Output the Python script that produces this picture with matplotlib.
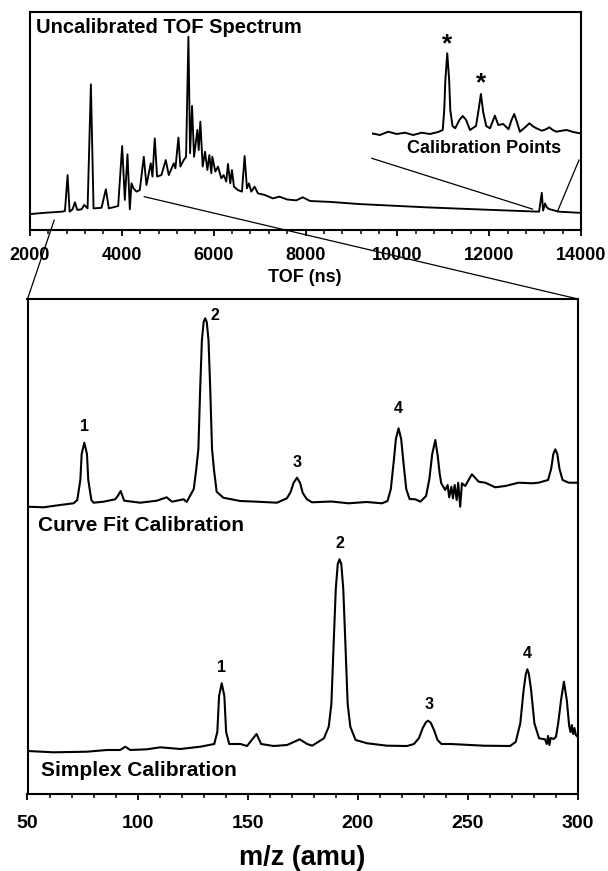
import numpy as np
import matplotlib
matplotlib.use("Agg")
import matplotlib.pyplot as plt
from matplotlib.patches import ConnectionPatch
from matplotlib.ticker import MultipleLocator

plt.rcParams['font.family'] = ['Liberation Sans', 'DejaVu Sans']
plt.rcParams['font.weight'] = 'bold'

# ---- uncalibrated TOF spectrum (ns, relative intensity %) ----
tof_ns = [2000, 2326, 2689, 2761, 2819, 2862, 2927, 2978, 3029, 3123, 3181, 3254,
          3326, 3384, 3558, 3652, 3717, 3920, 4007, 4065, 4123, 4174, 4210, 4253,
          4319, 4391, 4478, 4536, 4630, 4667, 4717, 4768, 4862, 4957, 5022, 5131,
          5167, 5232, 5275, 5348, 5399, 5450, 5486, 5529, 5573, 5645, 5674, 5710,
          5761, 5812, 5863, 5906, 5949, 5971, 6036, 6094, 6166, 6217, 6275, 6311,
          6362, 6398, 6442, 6529, 6616, 6674, 6725, 6768, 6819, 6891, 6964, 7109,
          7290, 7429, 7600, 7800, 7940, 8100, 8528, 9174, 10624, 12072, 13087,
          13146, 13174, 13218, 13254, 13305, 13522, 13957]
tof_int = [7.3, 7.9, 8.4, 8.7, 25.2, 8.4, 9.5, 12.7, 9.2, 9.5, 11.5, 9.9,
           66.8, 9.9, 10.2, 18.7, 9.9, 11.0, 38.5, 13.8, 34.7, 9.5, 21.4, 19.1,
           17.6, 18.3, 33.6, 20.6, 30.6, 24.5, 42.0, 24.5, 25.2, 32.1, 25.2, 30.6,
           28.3, 42.4, 29.1, 32.1, 33.6, 88.7, 35.2, 56.9, 33.6, 45.9, 36.7, 49.7,
           29.1, 35.9, 27.5, 34.4, 26.0, 33.6, 26.8, 29.1, 23.7, 25.2, 22.2, 30.3,
           21.4, 27.5, 19.9, 18.3, 17.6, 33.9, 19.1, 21.4, 17.6, 19.9, 16.8, 16.1,
           14.5, 15.3, 14.0, 13.6, 15.0, 13.3, 12.9, 11.9, 10.4, 9.2, 8.4,
           17.1, 8.9, 12.2, 10.4, 9.6, 8.4, 7.9]

# ---- inset: calibration points region ----
inset_ns = [12949, 12971, 12993, 13015, 13037, 13059, 13081, 13103, 13125, 13137,
            13141, 13144, 13149, 13154, 13157, 13163, 13170, 13181, 13190, 13199,
            13209, 13225, 13231, 13238, 13244, 13252, 13262, 13275, 13284, 13297,
            13311, 13319, 13326, 13333, 13341, 13355, 13366, 13377, 13385, 13399,
            13410, 13419, 13428, 13438, 13452, 13465, 13482, 13500]
inset_int = [6.7, 5.0, 8.3, 6.0, 7.3, 5.0, 7.3, 6.0, 8.0, 10.0,
             30.0, 60.0, 86.7, 60.0, 30.0, 14.0, 11.7, 20.0, 24.0, 20.0,
             10.0, 14.0, 28.0, 46.0, 28.0, 14.0, 11.7, 24.3, 15.0, 16.0,
             10.7, 20.0, 26.0, 18.3, 8.3, 12.7, 16.7, 13.3, 11.7, 9.3,
             10.7, 12.7, 10.0, 8.3, 9.3, 10.0, 8.0, 6.7]
star_ns = [13149, 13238]
star_int = [96, 57]

# ---- curve fit calibration (m/z, intensity) ----
cf_mz = [50.0, 57.3, 64.8, 70.9, 72.6, 74.0, 74.6, 75.8, 77.0, 77.6, 79.0, 80.0,
         84.5, 89.8, 91.0, 92.3, 93.9, 101.2, 108.7, 113.2, 115.6, 120.9, 122.3,
         125.5, 126.6, 127.6, 128.4, 129.2, 130.0, 130.7, 131.4, 132.2, 133.0,
         133.8, 134.7, 135.9, 138.9, 146.6, 154.2, 163.3, 167.8, 169.5, 170.8,
         172.4, 173.8, 175.0, 176.9, 179.2, 188.0, 195.8, 204.0, 211.0, 213.5,
         215.0, 216.2, 217.3, 218.5, 219.7, 220.8, 222.0, 223.5, 226.1, 228.4,
         231.0, 232.5, 233.8, 235.2, 236.3, 237.2, 237.9, 239.7, 240.8, 241.5,
         242.5, 243.2, 244.0, 244.9, 245.6, 246.5, 247.3, 248.8, 250.3, 251.8,
         254.9, 257.9, 262.4, 267.0, 273.0, 279.1, 282.1, 286.4, 287.8, 288.8,
         289.7, 290.6, 291.6, 293.0, 295.8, 300.0]
cf_int = [287.3, 286.7, 289.0, 290.7, 294.0, 314.0, 340.0, 351.3, 340.0, 314.0, 294.0, 291.3,
          292.3, 294.7, 298.0, 303.0, 293.3, 291.3, 293.3, 296.7, 292.3, 294.7, 292.0,
          305.0, 324.0, 345.0, 404.0, 454.0, 472.0, 475.7, 472.0, 454.0, 404.0,
          345.0, 324.0, 302.3, 296.3, 293.0, 292.3, 291.3, 295.7, 302.0, 311.0,
          316.3, 311.0, 301.0, 294.7, 291.7, 292.5, 290.7, 292.0, 290.7, 293.0,
          305.0, 330.0, 355.0, 365.7, 355.0, 330.0, 305.0, 295.0, 294.7, 292.3,
          298.0, 315.0, 340.0, 354.0, 338.0, 320.0, 310.7, 304.0, 309.0, 296.7,
          307.3, 295.7, 309.0, 294.0, 311.3, 287.3, 310.7, 308.0, 314.0, 319.7,
          312.3, 311.3, 306.7, 308.0, 311.3, 310.7, 311.3, 314.0, 325.0, 340.0,
          344.7, 340.0, 325.0, 314.0, 311.3, 311.3]
cf_labels = ['1', '2', '3', '4']
cf_label_mz = [75.8, 135.3, 172.3, 218.2]
cf_label_int = [368, 479, 332, 386]

# ---- simplex calibration (m/z, intensity) ----
sx_mz = [50.0, 61.8, 77.0, 86.1, 92.1, 94.4, 96.7, 104.3, 110.3, 119.4, 128.5,
         134.8, 136.2, 137.0, 138.2, 139.4, 140.2, 141.6, 146.7, 149.7, 154.0,
         156.1, 161.8, 167.9, 173.6, 177.0, 179.3, 184.6, 186.8, 188.0, 189.1,
         190.0, 190.9, 191.7, 192.5, 193.4, 194.3, 195.4, 196.6, 199.0, 204.3,
         213.3, 222.4, 225.5, 227.8, 229.5, 231.0, 232.0, 233.2, 234.6, 236.2,
         238.0, 242.1, 257.3, 269.1, 271.7, 273.8, 275.3, 276.3, 277.0, 277.7,
         278.7, 280.2, 282.3, 285.0, 285.8, 286.4, 287.0, 287.6, 289.0, 290.0,
         291.0, 292.3, 293.6, 294.9, 296.0, 296.6, 297.2, 297.8, 298.4, 299.0,
         299.8]
sx_int = [43.0, 41.7, 42.3, 44.0, 44.0, 47.3, 44.0, 44.7, 46.7, 45.0, 47.3,
          50.0, 62.0, 98.0, 110.7, 98.0, 62.0, 50.0, 50.0, 48.0, 60.0,
          50.0, 48.0, 49.0, 54.7, 50.0, 48.3, 55.7, 67.3, 90.0, 154.0,
          205.0, 230.0, 234.7, 230.0, 205.0, 154.0, 90.0, 67.3, 54.0, 50.7,
          48.3, 48.0, 50.0, 56.0, 66.0, 72.0, 73.3, 71.0, 64.0, 54.0,
          50.0, 50.0, 48.3, 48.0, 52.0, 70.7, 104.0, 120.0, 124.7, 120.0,
          104.0, 70.7, 55.7, 54.7, 50.0, 58.0, 49.0, 56.0, 55.0, 57.3,
          70.7, 94.0, 112.3, 94.0, 68.0, 62.0, 69.0, 60.0, 66.0, 59.0,
          57.3]
sx_labels = ['1', '2', '3', '4']
sx_label_mz = [138.3, 191.7, 232.3, 277.0]
sx_label_int = [127, 251, 90, 141]

W, H = 608, 871
fig = plt.figure(figsize=(W / 100, H / 100), dpi=100)


def px_box(x0, x1, y_top, y_bot):
    return [x0 / W, 1 - y_bot / H, (x1 - x0) / W, (y_bot - y_top) / H]


def style_axes(ax, lab_size, pad):
    for s in ax.spines.values():
        s.set_linewidth(1.5)
    ax.set_yticks([])
    ax.tick_params(axis='x', which='major', direction='out', length=4, width=1.3,
                   labelsize=lab_size, pad=pad)
    ax.tick_params(axis='x', which='minor', direction='out', length=3, width=1.1)
    for lab in ax.get_xticklabels():
        lab.set_fontweight('bold')


# top panel
ax1 = fig.add_axes(px_box(30, 581, 12, 230))
ax1.plot(tof_ns, tof_int, color='black', lw=1.35)
ax1.set_xlim(2000, 14000)
ax1.set_ylim(0, 100)
ax1.xaxis.set_major_locator(MultipleLocator(2000))
ax1.xaxis.set_minor_locator(MultipleLocator(400))
style_axes(ax1, 13, 8)
ax1.text(2130, 92.9, 'Uncalibrated TOF Spectrum', fontsize=14.5, fontweight='bold',
         ha='left', va='center')
ax1.text(11892, 37.6, 'Calibration Points', fontsize=13, fontweight='bold',
         ha='center', va='center')
fig.text(305 / W, 1 - 277.7 / H, 'TOF (ns)', fontsize=13, fontweight='bold',
         ha='center', va='center')

# inset
axi = fig.add_axes(px_box(372, 580, 40, 140))
axi.plot(inset_ns, inset_int, color='black', lw=1.4)
axi.set_xlim(12950, 13500)
axi.set_ylim(0, 100)
axi.axis('off')
for xs, ys in zip(star_ns, star_int):
    axi.text(xs, ys, '*', fontsize=19, fontweight='bold', ha='center', va='center')

# connector lines for inset
for (xa, ya), (xb, yb) in [((9442, 32.9), (12942, 9.6)), ((13957, 32.1), (13485, 8.4))]:
    ax1.plot([xa, xb], [ya, yb], color='black', lw=0.9, clip_on=False)

# bottom panel
ax2 = fig.add_axes(px_box(27.5, 578, 299, 794))
ax2.plot(cf_mz, cf_int, color='black', lw=1.5)
ax2.plot(sx_mz, sx_int, color='black', lw=1.5)
ax2.set_xlim(50, 300)
ax2.set_ylim(0, 495)
ax2.xaxis.set_major_locator(MultipleLocator(50))
ax2.xaxis.set_minor_locator(MultipleLocator(10))
style_axes(ax2, 14, 11)
for t, x, y in zip(cf_labels, cf_label_mz, cf_label_int):
    ax2.text(x, y, t, fontsize=11.5, fontweight='bold', ha='center', va='center')
for t, x, y in zip(sx_labels, sx_label_mz, sx_label_int):
    ax2.text(x, y, t, fontsize=11.5, fontweight='bold', ha='center', va='center')
ax2.text(54.6, 269, 'Curve Fit Calibration', fontsize=15, fontweight='bold',
         ha='left', va='center')
ax2.text(56, 24, 'Simplex Calibration', fontsize=15, fontweight='bold',
         ha='left', va='center')
fig.text(302 / W, 1 - 858 / H, 'm/z (amu)', fontsize=19.5, fontweight='bold',
         ha='center', va='center')

# zoom lines from the TOF spectrum down to the calibrated panel
for (xa, ya), xb in [((2528, 4.6), 0.0), ((4485, 15.3), 1.0)]:
    con = ConnectionPatch(xyA=(xa, ya), coordsA='data', axesA=ax1,
                          xyB=(xb, 1.0), coordsB='axes fraction', axesB=ax2,
                          color='black', lw=0.9)
    fig.add_artist(con)

fig.savefig('out.png', dpi=100)
